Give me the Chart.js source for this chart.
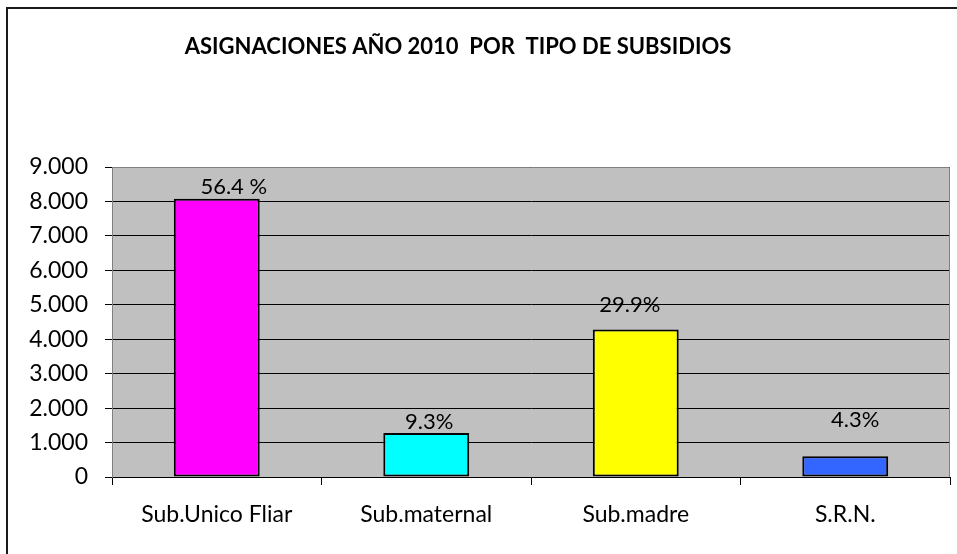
<!DOCTYPE html>
<html>
<head>
<meta charset="utf-8">
<script src="https://cdn.jsdelivr.net/npm/chart.js@4/dist/chart.umd.min.js"></script>
<style>
  html, body { margin: 0; padding: 0; background: #fff; }
  #wrap { width: 957px; height: 554px; }
</style>
</head>
<body>
<div id="wrap"><canvas id="chartSubsidios" width="957" height="554"></canvas></div>
<script>
const titulo = 'ASIGNACIONES AÑO 2010  POR  TIPO DE SUBSIDIOS';
const categorias = ['Sub.Unico Fliar', 'Sub.maternal', 'Sub.madre', 'S.R.N.'];
const asignaciones = [8075, 1280, 4280, 605];
const porcentajes = ['56.4 %', '9.3%', '29.9%', '4.3%'];
const colores = ['#FF00FF', '#00FFFF', '#FFFF00', '#3366FF'];
const yTicks = [0, 1000, 2000, 3000, 4000, 5000, 6000, 7000, 8000, 9000];

// desplazamiento de cada etiqueta respecto al tope de su barra (px)
const labelShift = [[17, 12], [3, 11], [-6, 25], [10, 36]];

const FONT = 'Lato, "Noto Sans", sans-serif';

function fmtMiles(v) {
  return String(v).replace(/\B(?=(\d{3})+$)/g, '.');
}

const marco = {
  id: 'marco',
  beforeDraw(chart) {
    const { ctx, chartArea: a } = chart;
    ctx.save();
    ctx.fillStyle = '#fff';
    ctx.fillRect(0, 0, chart.width, chart.height);
    ctx.fillStyle = '#C0C0C0';
    ctx.fillRect(a.left, a.top, a.right - a.left, a.bottom - a.top);
    ctx.strokeStyle = '#1a1a1a';
    ctx.lineWidth = 2;
    ctx.beginPath();
    ctx.moveTo(7, chart.height);
    ctx.lineTo(7, 8);
    ctx.lineTo(chart.width, 8);
    ctx.stroke();
    ctx.restore();
  },
  afterDraw(chart) {
    const { ctx, chartArea: a } = chart;
    ctx.save();
    ctx.strokeStyle = '#808080';
    ctx.lineWidth = 1;
    ctx.beginPath();
    ctx.moveTo(a.left, a.top + 0.5);
    ctx.lineTo(a.right - 0.5, a.top + 0.5);
    ctx.lineTo(a.right - 0.5, a.bottom);
    ctx.stroke();
    ctx.fillStyle = '#000';
    ctx.font = 'bold 22px ' + FONT;
    ctx.textAlign = 'center';
    ctx.textBaseline = 'middle';
    ctx.fillText(titulo, 458, 47);
    ctx.restore();
  }
};

const etiquetas = {
  id: 'etiquetas',
  afterDatasetsDraw(chart) {
    const { ctx } = chart;
    const meta = chart.getDatasetMeta(0);
    ctx.save();
    ctx.fillStyle = '#000';
    ctx.font = '22px ' + FONT;
    ctx.textAlign = 'center';
    ctx.textBaseline = 'middle';
    meta.data.forEach((bar, i) => {
      const [dx, dy] = labelShift[i];
      ctx.fillText(porcentajes[i], bar.x + dx, bar.y - dy);
    });
    ctx.restore();
  }
};

new Chart(document.getElementById('chartSubsidios'), {
  type: 'bar',
  data: {
    labels: categorias,
    datasets: [{
      data: asignaciones,
      backgroundColor: colores,
      borderColor: '#000',
      borderWidth: 2,
      borderSkipped: false,
      categoryPercentage: 1,
      barPercentage: 0.41
    }]
  },
  options: {
    responsive: false,
    animation: false,
    layout: { padding: { left: 0, top: 167, right: 7, bottom: 0 } },
    plugins: {
      legend: { display: false },
      tooltip: { enabled: false }
    },
    scales: {
      x: {
        offset: true,
        grid: { display: true, drawOnChartArea: false, offset: true, color: '#000', tickLength: 8, lineWidth: 1 },
        border: { color: '#000' },
        ticks: { color: '#000', padding: 16, font: { family: FONT, size: 23 } },
        afterFit: s => { s.height = 77; }
      },
      y: {
        min: 0,
        max: 9000,
        afterBuildTicks: s => { s.ticks = yTicks.map(v => ({ value: v })); },
        grid: { color: '#000', tickLength: 7, lineWidth: 1 },
        border: { color: '#808080' },
        ticks: { color: '#000', padding: 17, font: { family: FONT, size: 23 }, callback: v => fmtMiles(v) },
        afterFit: s => { s.width = 112; }
      }
    }
  },
  plugins: [marco, etiquetas]
});
</script>
</body>
</html>
